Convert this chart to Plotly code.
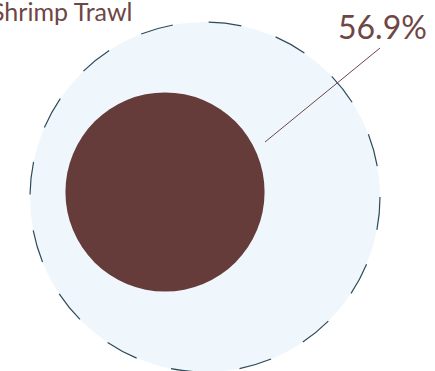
import plotly.graph_objects as go

# Share of the reference circle taken by the inner circle (radius ratio)
category = "Shrimp Trawl"
share_pct = 56.9

W, H = 435, 371
outer_c = (205, 197)
outer_r = 175
inner_c = (165, 192)
inner_r = outer_r * share_pct / 100.0

fig = go.Figure()

fig.add_shape(type="circle", xref="x", yref="y",
              x0=outer_c[0] - outer_r, x1=outer_c[0] + outer_r,
              y0=outer_c[1] - outer_r, y1=outer_c[1] + outer_r,
              fillcolor="#eff7fd",
              line=dict(color="#2f4b5a", width=1.2, dash="33px,36px"),
              layer="below")
fig.add_shape(type="circle", xref="x", yref="y",
              x0=inner_c[0] - inner_r, x1=inner_c[0] + inner_r,
              y0=inner_c[1] - inner_r, y1=inner_c[1] + inner_r,
              fillcolor="#653c3a", line=dict(width=0))

# leader line from the inner circle to the value label
fig.add_shape(type="line", xref="x", yref="y",
              x0=265, y0=142, x1=380, y1=48,
              line=dict(color="#6e4646", width=1))

fig.add_annotation(x=134, y=0, yshift=6, xref="x", yref="y", text=category,
                   xanchor="right", yanchor="top", showarrow=False,
                   font=dict(family="Lato", size=25, color="#6e4646"))
fig.add_annotation(x=429, y=5, xref="x", yref="y", text=f"{share_pct:.1f}%",
                   xanchor="right", yanchor="top", showarrow=False,
                   font=dict(family="Lato", size=32, color="#6e4646"))

fig.update_xaxes(range=[0, W], visible=False, fixedrange=True)
fig.update_yaxes(range=[H, 0], visible=False, fixedrange=True)
fig.update_layout(width=W, height=H, margin=dict(l=0, r=0, t=0, b=0),
                  paper_bgcolor="white", plot_bgcolor="white",
                  showlegend=False)

fig.write_html("out.html")
